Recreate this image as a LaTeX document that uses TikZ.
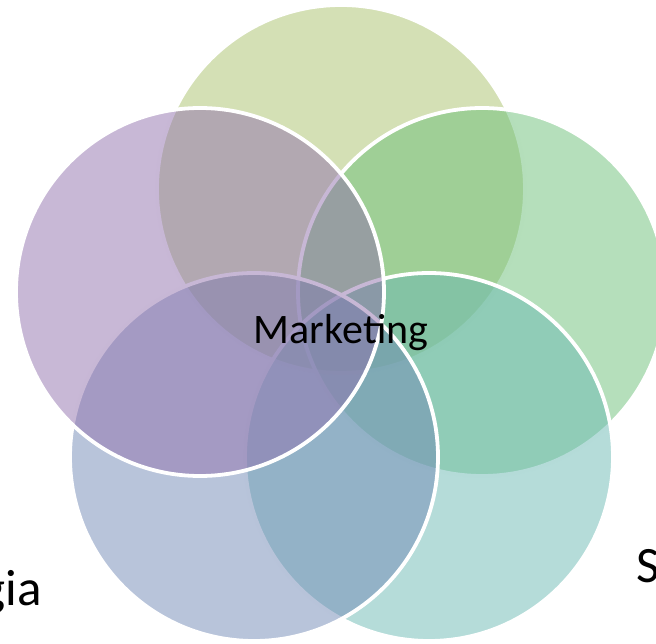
\documentclass[tikz,border=0pt]{standalone}
\usepackage{fontspec}
\setmainfont{Carlito}
\definecolor{cTop}{HTML}{A9C16B}
\definecolor{cRight}{HTML}{6BBF77}
\definecolor{cLowRight}{HTML}{6BB9B3}
\definecolor{cLowLeft}{HTML}{7189B5}
\definecolor{cLeft}{HTML}{9171AD}
\tikzset{
  venn/.style={circle, minimum size=368pt, inner sep=0pt, draw=white,
    line width=3.8pt, fill=#1, fill opacity=0.5, draw opacity=1},
  centrelabel/.style={font=\fontsize{42}{50}\selectfont, text=black, inner sep=0pt},
  outerlabel/.style={font=\fontsize{51}{60}\selectfont, text=black, inner sep=0pt}
}
\begin{document}
\begin{tikzpicture}[x=1pt, y=-1pt]
  \useasboundingbox (0,0) rectangle (656,644);
  \clip (0,0) rectangle (656,644);
  % five overlapping sets, drawn in stacking order
  \node[venn=cTop]      (top)      at (341,189) {};
  \node[venn=cRight]    (right)    at (482,292) {};
  \node[venn=cLowRight] (lowright) at (429,457) {};
  \node[venn=cLowLeft]  (lowleft)  at (254,457) {};
  \node[venn=cLeft]     (left)     at (200,292) {};
  % labels
  \node[centrelabel, anchor=base] (core) at (341,344) {Marketing};
  \node[outerlabel, anchor=base east] (labA) at (42,605) {gia};
  \node[outerlabel, anchor=base west] (labB) at (636,582) {S};
\end{tikzpicture}
\end{document}
